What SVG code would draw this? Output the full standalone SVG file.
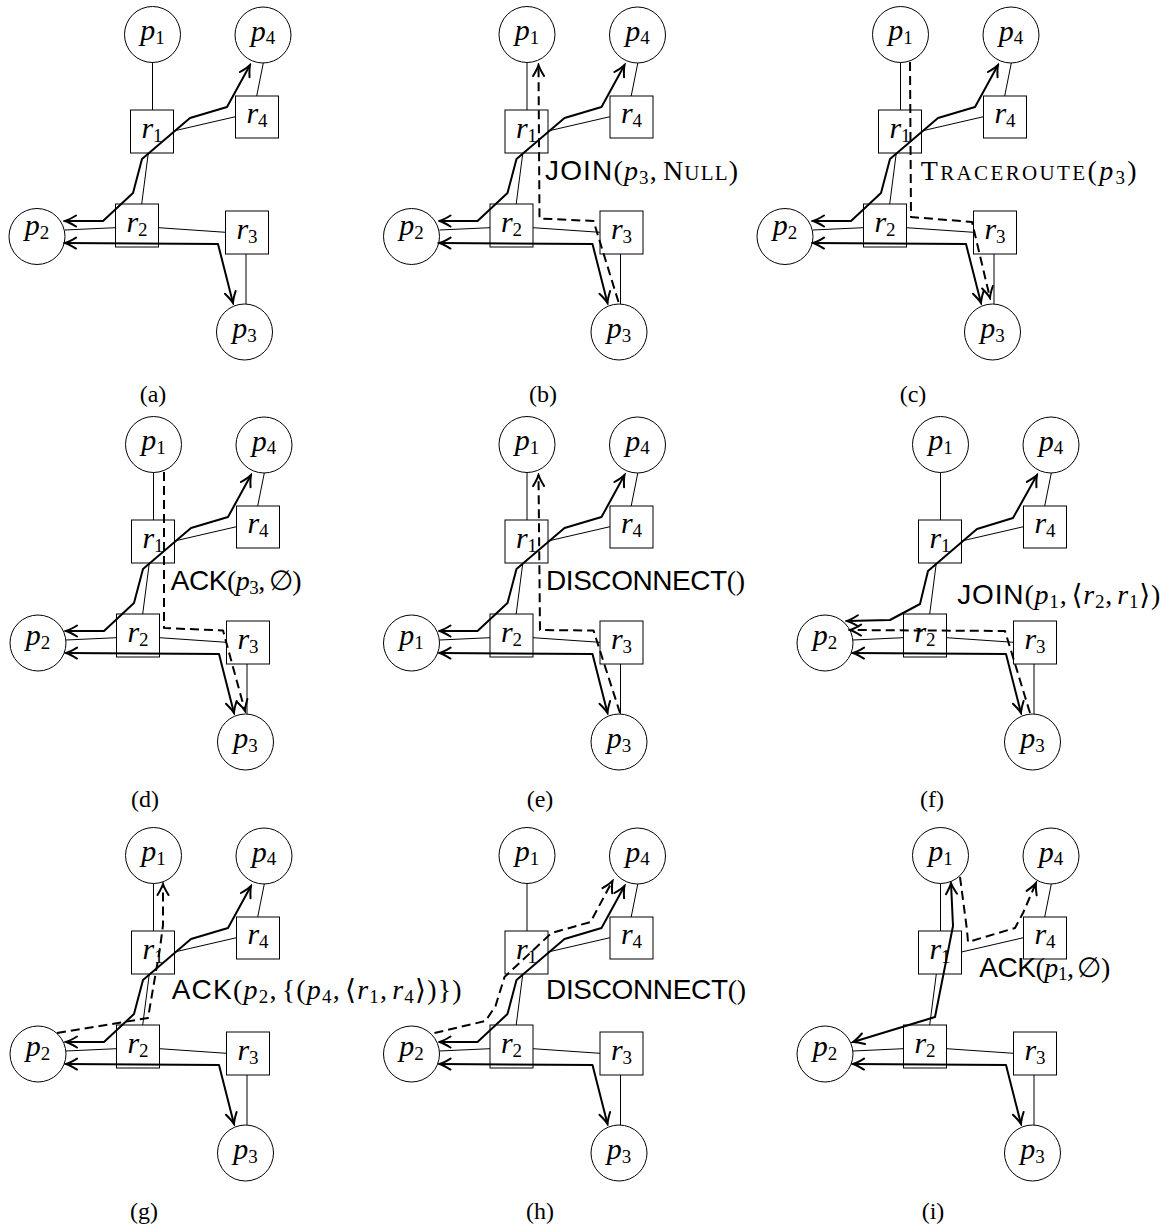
<svg xmlns="http://www.w3.org/2000/svg" width="1169" height="1228" viewBox="0 0 1169 1228">
<defs>
<style>
.n{fill:#fff;stroke:#000;stroke-width:1}
.e{stroke:#000;stroke-width:1;fill:none}
.m{stroke:#000;stroke-width:2;fill:none;stroke-linejoin:round}
.d{stroke-dasharray:9 5}
.nl{font-family:"Liberation Serif",serif;font-size:30px;text-anchor:middle}
.it{font-style:italic}
.sub{font-size:19px}
.ml{font-family:"Liberation Serif","DejaVu Serif",serif;font-size:28px}
.sf{font-family:"Liberation Sans",sans-serif}
.sc{font-size:21px}
.cap{font-family:"Liberation Serif",serif;font-size:24px;text-anchor:middle}
</style>
<marker id="ar" viewBox="-13 -8 15 16" refX="0" refY="0" markerWidth="15" markerHeight="16" markerUnits="userSpaceOnUse" orient="auto-start-reverse">
<path d="M-11,-5.5 Q-4,-1.2 0,0 Q-4,1.2 -11,5.5" fill="none" stroke="#000" stroke-width="2" stroke-linecap="round"/>
</marker>
</defs>
<rect width="1169" height="1228" fill="#fff"/>

<!-- Panel a -->
<g id="panel-a" transform="translate(0,0)">
<g id="a-p1"><circle class="n" cx="152.5" cy="34.5" r="28"/><text class="nl" x="152.5" y="40"><tspan class="it">p</tspan><tspan class="sub" dy="3.5">1</tspan></text></g>
<g id="a-p4"><circle class="n" cx="263" cy="35" r="28"/><text class="nl" x="263" y="40.5"><tspan class="it">p</tspan><tspan class="sub" dy="3.5">4</tspan></text></g>
<g id="a-p2"><circle class="n" cx="37" cy="236.5" r="28"/><text class="nl" x="37" y="235"><tspan class="it">p</tspan><tspan class="sub" dy="3.5">2</tspan></text></g>
<g id="a-p3"><circle class="n" cx="244.5" cy="332" r="28"/><text class="nl" x="244.5" y="338"><tspan class="it">p</tspan><tspan class="sub" dy="3.5">3</tspan></text></g>
<g id="a-r1"><rect class="n" x="130.5" y="110" width="43" height="43"/><text class="nl" x="152" y="137.5"><tspan class="it">r</tspan><tspan class="sub" dy="4">1</tspan></text></g>
<g id="a-r4"><rect class="n" x="235.5" y="96" width="43" height="42"/><text class="nl" x="257" y="123"><tspan class="it">r</tspan><tspan class="sub" dy="4">4</tspan></text></g>
<g id="a-r2"><rect class="n" x="115.5" y="204" width="43" height="43"/><text class="nl" x="137" y="231.5"><tspan class="it">r</tspan><tspan class="sub" dy="4">2</tspan></text></g>
<g id="a-r3"><rect class="n" x="225.5" y="211" width="43" height="43"/><text class="nl" x="247" y="238.5"><tspan class="it">r</tspan><tspan class="sub" dy="4">3</tspan></text></g>
<g id="a-connectors">
<path class="e" d="M152.5,62.5 V110 M173.5,131 L235.5,116.7 M256.7,96 L263.3,63 M148.3,153 L141.7,204 M65,230 L115.5,227.7 M158.5,227.7 L225.5,232.3 M246,254 V304"/>
<path class="m" d="M65,221 L103,221 L133,193 L142,159 L190,118 L227,107 L250,65" marker-start="url(#ar)" marker-end="url(#ar)"/>
<path class="m" d="M65,243 L218,244 L233,303" marker-start="url(#ar)" marker-end="url(#ar)"/>
</g>
</g>

<!-- Panel b -->
<g id="panel-b" transform="translate(374.5,0)">
<g id="b-p1"><circle class="n" cx="152.5" cy="34.5" r="28"/><text class="nl" x="152.5" y="40"><tspan class="it">p</tspan><tspan class="sub" dy="3.5">1</tspan></text></g>
<g id="b-p4"><circle class="n" cx="263" cy="35" r="28"/><text class="nl" x="263" y="40.5"><tspan class="it">p</tspan><tspan class="sub" dy="3.5">4</tspan></text></g>
<g id="b-p2"><circle class="n" cx="37" cy="236.5" r="28"/><text class="nl" x="37" y="235"><tspan class="it">p</tspan><tspan class="sub" dy="3.5">2</tspan></text></g>
<g id="b-p3"><circle class="n" cx="244.5" cy="332" r="28"/><text class="nl" x="244.5" y="338"><tspan class="it">p</tspan><tspan class="sub" dy="3.5">3</tspan></text></g>
<g id="b-r1"><rect class="n" x="130.5" y="110" width="43" height="43"/><text class="nl" x="152" y="137.5"><tspan class="it">r</tspan><tspan class="sub" dy="4">1</tspan></text></g>
<g id="b-r4"><rect class="n" x="235.5" y="96" width="43" height="42"/><text class="nl" x="257" y="123"><tspan class="it">r</tspan><tspan class="sub" dy="4">4</tspan></text></g>
<g id="b-r2"><rect class="n" x="115.5" y="204" width="43" height="43"/><text class="nl" x="137" y="231.5"><tspan class="it">r</tspan><tspan class="sub" dy="4">2</tspan></text></g>
<g id="b-r3"><rect class="n" x="225.5" y="211" width="43" height="43"/><text class="nl" x="247" y="238.5"><tspan class="it">r</tspan><tspan class="sub" dy="4">3</tspan></text></g>
<g id="b-connectors">
<path class="e" d="M152.5,62.5 V110 M173.5,131 L235.5,116.7 M256.7,96 L263.3,63 M148.3,153 L141.7,204 M65,230 L115.5,227.7 M158.5,227.7 L225.5,232.3 M246,254 V304"/>
<path class="m" d="M65,221 L103,221 L133,193 L142,159 L190,118 L227,107 L250,65" marker-start="url(#ar)" marker-end="url(#ar)"/>
<path class="m" d="M65,243 L218,244 L233,303" marker-start="url(#ar)" marker-end="url(#ar)"/>
<path class="m d" d="M244,302 L219,221 L165,218.5 L164,65" marker-end="url(#ar)"/>
</g>
<text class="ml" x="170.5" y="180" textLength="193" lengthAdjust="spacing"><tspan class="sf">JOIN</tspan>(<tspan class="it">p</tspan><tspan class="sub" dy="3.5">3</tspan><tspan dy="-3.5">,</tspan><tspan dx="5">N</tspan><tspan class="sc">ULL</tspan>)</text>
</g>

<!-- Panel c -->
<g id="panel-c" transform="translate(748,0)">
<g id="c-p1"><circle class="n" cx="152.5" cy="34.5" r="28"/><text class="nl" x="152.5" y="40"><tspan class="it">p</tspan><tspan class="sub" dy="3.5">1</tspan></text></g>
<g id="c-p4"><circle class="n" cx="263" cy="35" r="28"/><text class="nl" x="263" y="40.5"><tspan class="it">p</tspan><tspan class="sub" dy="3.5">4</tspan></text></g>
<g id="c-p2"><circle class="n" cx="37" cy="236.5" r="28"/><text class="nl" x="37" y="235"><tspan class="it">p</tspan><tspan class="sub" dy="3.5">2</tspan></text></g>
<g id="c-p3"><circle class="n" cx="244.5" cy="332" r="28"/><text class="nl" x="244.5" y="338"><tspan class="it">p</tspan><tspan class="sub" dy="3.5">3</tspan></text></g>
<g id="c-r1"><rect class="n" x="130.5" y="110" width="43" height="43"/><text class="nl" x="152" y="137.5"><tspan class="it">r</tspan><tspan class="sub" dy="4">1</tspan></text></g>
<g id="c-r4"><rect class="n" x="235.5" y="96" width="43" height="42"/><text class="nl" x="257" y="123"><tspan class="it">r</tspan><tspan class="sub" dy="4">4</tspan></text></g>
<g id="c-r2"><rect class="n" x="115.5" y="204" width="43" height="43"/><text class="nl" x="137" y="231.5"><tspan class="it">r</tspan><tspan class="sub" dy="4">2</tspan></text></g>
<g id="c-r3"><rect class="n" x="225.5" y="211" width="43" height="43"/><text class="nl" x="247" y="238.5"><tspan class="it">r</tspan><tspan class="sub" dy="4">3</tspan></text></g>
<g id="c-connectors">
<path class="e" d="M152.5,62.5 V110 M173.5,131 L235.5,116.7 M256.7,96 L263.3,63 M148.3,153 L141.7,204 M65,230 L115.5,227.7 M158.5,227.7 L225.5,232.3 M246,254 V304"/>
<path class="m" d="M65,221 L103,221 L133,193 L142,159 L190,118 L227,107 L250,65" marker-start="url(#ar)" marker-end="url(#ar)"/>
<path class="m" d="M65,243 L218,244 L233,303" marker-start="url(#ar)" marker-end="url(#ar)"/>
<path class="m d" d="M162,62 L163,217 L224,222 L242,298" marker-end="url(#ar)"/>
</g>
<text class="ml" x="172.7" y="180" textLength="216" lengthAdjust="spacing">T<tspan class="sc">RACEROUTE</tspan>(<tspan class="it">p</tspan><tspan class="sub" dy="3.5">3</tspan><tspan dy="-3.5">)</tspan></text>
</g>

<!-- Panel d -->
<g id="panel-d" transform="translate(1,410)">
<g id="d-p1"><circle class="n" cx="152.5" cy="34.5" r="28"/><text class="nl" x="152.5" y="40"><tspan class="it">p</tspan><tspan class="sub" dy="3.5">1</tspan></text></g>
<g id="d-p4"><circle class="n" cx="263" cy="35" r="28"/><text class="nl" x="263" y="40.5"><tspan class="it">p</tspan><tspan class="sub" dy="3.5">4</tspan></text></g>
<g id="d-p2"><circle class="n" cx="37" cy="233" r="28"/><text class="nl" x="37" y="235"><tspan class="it">p</tspan><tspan class="sub" dy="3.5">2</tspan></text></g>
<g id="d-p3"><circle class="n" cx="244.5" cy="332" r="28"/><text class="nl" x="244.5" y="338"><tspan class="it">p</tspan><tspan class="sub" dy="3.5">3</tspan></text></g>
<g id="d-r1"><rect class="n" x="130.5" y="110" width="43" height="43"/><text class="nl" x="152" y="137.5"><tspan class="it">r</tspan><tspan class="sub" dy="4">1</tspan></text></g>
<g id="d-r4"><rect class="n" x="235.5" y="96" width="43" height="42"/><text class="nl" x="257" y="123"><tspan class="it">r</tspan><tspan class="sub" dy="4">4</tspan></text></g>
<g id="d-r2"><rect class="n" x="115.5" y="204" width="43" height="43"/><text class="nl" x="137" y="231.5"><tspan class="it">r</tspan><tspan class="sub" dy="4">2</tspan></text></g>
<g id="d-r3"><rect class="n" x="225.5" y="211" width="43" height="43"/><text class="nl" x="247" y="238.5"><tspan class="it">r</tspan><tspan class="sub" dy="4">3</tspan></text></g>
<g id="d-connectors">
<path class="e" d="M152.5,62.5 V110 M173.5,131 L235.5,116.7 M256.7,96 L263.3,63 M148.3,153 L141.7,204 M65,230 L115.5,227.7 M158.5,227.7 L225.5,232.3 M246,254 V304"/>
<path class="m" d="M65,221 L103,221 L133,193 L142,159 L190,118 L227,107 L250,65" marker-start="url(#ar)" marker-end="url(#ar)"/>
<path class="m" d="M65,243 L218,244 L233,303" marker-start="url(#ar)" marker-end="url(#ar)"/>
<path class="m d" d="M163,62 L163,218 L222,220.5 L244,301" marker-end="url(#ar)"/>
</g>
<text class="ml" x="169.7" y="180" textLength="131" lengthAdjust="spacing"><tspan class="sf">ACK</tspan>(<tspan class="it">p</tspan><tspan class="sub" dy="3.5">3</tspan><tspan dy="-3.5">,</tspan><tspan dx="4">∅</tspan>)</text>
</g>

<!-- Panel e -->
<g id="panel-e" transform="translate(374.5,410)">
<g id="e-p1"><circle class="n" cx="152.5" cy="34.5" r="28"/><text class="nl" x="152.5" y="40"><tspan class="it">p</tspan><tspan class="sub" dy="3.5">1</tspan></text></g>
<g id="e-p4"><circle class="n" cx="263" cy="35" r="28"/><text class="nl" x="263" y="40.5"><tspan class="it">p</tspan><tspan class="sub" dy="3.5">4</tspan></text></g>
<g id="e-p2"><circle class="n" cx="37" cy="233" r="28"/><text class="nl" x="37" y="235"><tspan class="it">p</tspan><tspan class="sub" dy="3.5">1</tspan></text></g>
<g id="e-p3"><circle class="n" cx="244.5" cy="332" r="28"/><text class="nl" x="244.5" y="338"><tspan class="it">p</tspan><tspan class="sub" dy="3.5">3</tspan></text></g>
<g id="e-r1"><rect class="n" x="130.5" y="110" width="43" height="43"/><text class="nl" x="152" y="137.5"><tspan class="it">r</tspan><tspan class="sub" dy="4">1</tspan></text></g>
<g id="e-r4"><rect class="n" x="235.5" y="96" width="43" height="42"/><text class="nl" x="257" y="123"><tspan class="it">r</tspan><tspan class="sub" dy="4">4</tspan></text></g>
<g id="e-r2"><rect class="n" x="115.5" y="204" width="43" height="43"/><text class="nl" x="137" y="231.5"><tspan class="it">r</tspan><tspan class="sub" dy="4">2</tspan></text></g>
<g id="e-r3"><rect class="n" x="225.5" y="211" width="43" height="43"/><text class="nl" x="247" y="238.5"><tspan class="it">r</tspan><tspan class="sub" dy="4">3</tspan></text></g>
<g id="e-connectors">
<path class="e" d="M152.5,62.5 V110 M173.5,131 L235.5,116.7 M256.7,96 L263.3,63 M148.3,153 L141.7,204 M65,230 L115.5,227.7 M158.5,227.7 L225.5,232.3 M246,254 V304"/>
<path class="m" d="M65,221 L103,221 L133,193 L142,159 L190,118 L227,107 L250,65" marker-start="url(#ar)" marker-end="url(#ar)"/>
<path class="m" d="M65,243 L218,244 L233,303" marker-start="url(#ar)" marker-end="url(#ar)"/>
<path class="m d" d="M245.5,303 L219,220.5 L165.5,220 L164,65" marker-end="url(#ar)"/>
</g>
<text class="ml" x="171.5" y="180" textLength="199" lengthAdjust="spacing"><tspan class="sf">DISCONNECT</tspan>()</text>
</g>

<!-- Panel f -->
<g id="panel-f" transform="translate(788,410)">
<g id="f-p1"><circle class="n" cx="152.5" cy="34.5" r="28"/><text class="nl" x="152.5" y="40"><tspan class="it">p</tspan><tspan class="sub" dy="3.5">1</tspan></text></g>
<g id="f-p4"><circle class="n" cx="263" cy="35" r="28"/><text class="nl" x="263" y="40.5"><tspan class="it">p</tspan><tspan class="sub" dy="3.5">4</tspan></text></g>
<g id="f-p2"><circle class="n" cx="37" cy="233" r="28"/><text class="nl" x="37" y="235"><tspan class="it">p</tspan><tspan class="sub" dy="3.5">2</tspan></text></g>
<g id="f-p3"><circle class="n" cx="244.5" cy="332" r="28"/><text class="nl" x="244.5" y="338"><tspan class="it">p</tspan><tspan class="sub" dy="3.5">3</tspan></text></g>
<g id="f-r1"><rect class="n" x="130.5" y="110" width="43" height="43"/><text class="nl" x="152" y="137.5"><tspan class="it">r</tspan><tspan class="sub" dy="4">1</tspan></text></g>
<g id="f-r4"><rect class="n" x="235.5" y="96" width="43" height="42"/><text class="nl" x="257" y="123"><tspan class="it">r</tspan><tspan class="sub" dy="4">4</tspan></text></g>
<g id="f-r2"><rect class="n" x="115.5" y="204" width="43" height="43"/><text class="nl" x="137" y="231.5"><tspan class="it">r</tspan><tspan class="sub" dy="4">2</tspan></text></g>
<g id="f-r3"><rect class="n" x="225.5" y="211" width="43" height="43"/><text class="nl" x="247" y="238.5"><tspan class="it">r</tspan><tspan class="sub" dy="4">3</tspan></text></g>
<g id="f-connectors">
<path class="e" d="M152.5,62.5 V110 M173.5,131 L235.5,116.7 M256.7,96 L263.3,63 M148.3,153 L141.7,204 M65,230 L115.5,227.7 M158.5,227.7 L225.5,232.3 M246,254 V304"/>
<path class="m" d="M59,211 L102,210 L132,194 L140,161 L189,119 L225,108 L249,65" marker-start="url(#ar)" marker-end="url(#ar)"/>
<path class="m" d="M65,243 L218,244 L233,303" marker-start="url(#ar)" marker-end="url(#ar)"/>
<path class="m d" d="M242,303 L217,221 L62,220" marker-end="url(#ar)"/>
</g>
<text class="ml" x="169.3" y="194" textLength="203" lengthAdjust="spacing"><tspan class="sf">JOIN</tspan>(<tspan class="it">p</tspan><tspan class="sub" dy="3.5">1</tspan><tspan dy="-3.5">,</tspan><tspan dx="4">⟨</tspan><tspan class="it">r</tspan><tspan class="sub" dy="3.5">2</tspan><tspan dy="-3.5">,</tspan><tspan class="it" dx="4">r</tspan><tspan class="sub" dy="3.5">1</tspan><tspan dy="-3.5">⟩)</tspan></text>
</g>

<!-- Panel g -->
<g id="panel-g" transform="translate(1,821)">
<g id="g-p1"><circle class="n" cx="152.5" cy="34.5" r="28"/><text class="nl" x="152.5" y="40"><tspan class="it">p</tspan><tspan class="sub" dy="3.5">1</tspan></text></g>
<g id="g-p4"><circle class="n" cx="263" cy="35" r="28"/><text class="nl" x="263" y="40.5"><tspan class="it">p</tspan><tspan class="sub" dy="3.5">4</tspan></text></g>
<g id="g-p2"><circle class="n" cx="37" cy="233" r="28"/><text class="nl" x="37" y="235"><tspan class="it">p</tspan><tspan class="sub" dy="3.5">2</tspan></text></g>
<g id="g-p3"><circle class="n" cx="244.5" cy="332" r="28"/><text class="nl" x="244.5" y="338"><tspan class="it">p</tspan><tspan class="sub" dy="3.5">3</tspan></text></g>
<g id="g-r1"><rect class="n" x="130.5" y="110" width="43" height="43"/><text class="nl" x="152" y="137.5"><tspan class="it">r</tspan><tspan class="sub" dy="4">1</tspan></text></g>
<g id="g-r4"><rect class="n" x="235.5" y="96" width="43" height="42"/><text class="nl" x="257" y="123"><tspan class="it">r</tspan><tspan class="sub" dy="4">4</tspan></text></g>
<g id="g-r2"><rect class="n" x="115.5" y="204" width="43" height="43"/><text class="nl" x="137" y="231.5"><tspan class="it">r</tspan><tspan class="sub" dy="4">2</tspan></text></g>
<g id="g-r3"><rect class="n" x="225.5" y="211" width="43" height="43"/><text class="nl" x="247" y="238.5"><tspan class="it">r</tspan><tspan class="sub" dy="4">3</tspan></text></g>
<g id="g-connectors">
<path class="e" d="M152.5,62.5 V110 M173.5,131 L235.5,116.7 M256.7,96 L263.3,63 M148.3,153 L141.7,204 M65,230 L115.5,227.7 M158.5,227.7 L225.5,232.3 M246,254 V304"/>
<path class="m" d="M65,221 L103,221 L133,193 L142,159 L190,118 L227,107 L250,65" marker-start="url(#ar)" marker-end="url(#ar)"/>
<path class="m" d="M65,243 L218,244 L233,303" marker-start="url(#ar)" marker-end="url(#ar)"/>
<path class="m d" d="M56,212 L147,197 L159,127 L162,104 L162,63" marker-end="url(#ar)"/>
</g>
<text class="ml" x="170.7" y="178.3" textLength="290" lengthAdjust="spacing"><tspan class="sf">ACK</tspan>(<tspan class="it">p</tspan><tspan class="sub" dy="3.5">2</tspan><tspan dy="-3.5">,</tspan><tspan dx="4">{(</tspan><tspan class="it">p</tspan><tspan class="sub" dy="3.5">4</tspan><tspan dy="-3.5">,</tspan><tspan dx="4">⟨</tspan><tspan class="it">r</tspan><tspan class="sub" dy="3.5">1</tspan><tspan dy="-3.5">,</tspan><tspan class="it" dx="4">r</tspan><tspan class="sub" dy="3.5">4</tspan><tspan dy="-3.5">⟩)})</tspan></text>
</g>

<!-- Panel h -->
<g id="panel-h" transform="translate(374.5,821)">
<g id="h-p1"><circle class="n" cx="152.5" cy="34.5" r="28"/><text class="nl" x="152.5" y="40"><tspan class="it">p</tspan><tspan class="sub" dy="3.5">1</tspan></text></g>
<g id="h-p4"><circle class="n" cx="263" cy="35" r="28"/><text class="nl" x="263" y="40.5"><tspan class="it">p</tspan><tspan class="sub" dy="3.5">4</tspan></text></g>
<g id="h-p2"><circle class="n" cx="37" cy="233" r="28"/><text class="nl" x="37" y="235"><tspan class="it">p</tspan><tspan class="sub" dy="3.5">2</tspan></text></g>
<g id="h-p3"><circle class="n" cx="244.5" cy="332" r="28"/><text class="nl" x="244.5" y="338"><tspan class="it">p</tspan><tspan class="sub" dy="3.5">3</tspan></text></g>
<g id="h-r1"><rect class="n" x="130.5" y="110" width="43" height="43"/><text class="nl" x="152" y="137.5"><tspan class="it">r</tspan><tspan class="sub" dy="4">1</tspan></text></g>
<g id="h-r4"><rect class="n" x="235.5" y="96" width="43" height="42"/><text class="nl" x="257" y="123"><tspan class="it">r</tspan><tspan class="sub" dy="4">4</tspan></text></g>
<g id="h-r2"><rect class="n" x="115.5" y="204" width="43" height="43"/><text class="nl" x="137" y="231.5"><tspan class="it">r</tspan><tspan class="sub" dy="4">2</tspan></text></g>
<g id="h-r3"><rect class="n" x="225.5" y="211" width="43" height="43"/><text class="nl" x="247" y="238.5"><tspan class="it">r</tspan><tspan class="sub" dy="4">3</tspan></text></g>
<g id="h-connectors">
<path class="e" d="M152.5,62.5 V110 M173.5,131 L235.5,116.7 M256.7,96 L263.3,63 M148.3,153 L141.7,204 M65,230 L115.5,227.7 M158.5,227.7 L225.5,232.3 M246,254 V304"/>
<path class="m" d="M65,221 L103,221 L133,193 L142,159 L190,118 L227,107 L250,65" marker-start="url(#ar)" marker-end="url(#ar)"/>
<path class="m" d="M65,243 L218,244 L233,303" marker-start="url(#ar)" marker-end="url(#ar)"/>
<path class="m d" d="M60,212 L111,200 L121,185 L130,156 L177,112 L216,101 L238,60" marker-end="url(#ar)"/>
</g>
<text class="ml" x="171.5" y="178.3" textLength="200" lengthAdjust="spacing"><tspan class="sf">DISCONNECT</tspan>()</text>
</g>

<!-- Panel i -->
<g id="panel-i" transform="translate(788,821)">
<g id="i-p1"><circle class="n" cx="152.5" cy="34.5" r="28"/><text class="nl" x="152.5" y="40"><tspan class="it">p</tspan><tspan class="sub" dy="3.5">1</tspan></text></g>
<g id="i-p4"><circle class="n" cx="263" cy="35" r="28"/><text class="nl" x="263" y="40.5"><tspan class="it">p</tspan><tspan class="sub" dy="3.5">4</tspan></text></g>
<g id="i-p2"><circle class="n" cx="37" cy="233" r="28"/><text class="nl" x="37" y="235"><tspan class="it">p</tspan><tspan class="sub" dy="3.5">2</tspan></text></g>
<g id="i-p3"><circle class="n" cx="244.5" cy="332" r="28"/><text class="nl" x="244.5" y="338"><tspan class="it">p</tspan><tspan class="sub" dy="3.5">3</tspan></text></g>
<g id="i-r1"><rect class="n" x="130.5" y="110" width="43" height="43"/><text class="nl" x="152" y="137.5"><tspan class="it">r</tspan><tspan class="sub" dy="4">1</tspan></text></g>
<g id="i-r4"><rect class="n" x="235.5" y="96" width="43" height="42"/><text class="nl" x="257" y="123"><tspan class="it">r</tspan><tspan class="sub" dy="4">4</tspan></text></g>
<g id="i-r2"><rect class="n" x="115.5" y="204" width="43" height="43"/><text class="nl" x="137" y="231.5"><tspan class="it">r</tspan><tspan class="sub" dy="4">2</tspan></text></g>
<g id="i-r3"><rect class="n" x="225.5" y="211" width="43" height="43"/><text class="nl" x="247" y="238.5"><tspan class="it">r</tspan><tspan class="sub" dy="4">3</tspan></text></g>
<g id="i-connectors">
<path class="e" d="M152.5,62.5 V110 M173.5,131 L235.5,116.7 M256.7,96 L263.3,63 M148.3,153 L141.7,204 M65,230 L115.5,227.7 M158.5,227.7 L225.5,232.3 M246,254 V304"/>
<path class="m" d="M65,221 L147,196 L165,105 L163,62" marker-start="url(#ar)" marker-end="url(#ar)"/>
<path class="m" d="M65,243 L218,244 L233,303" marker-start="url(#ar)" marker-end="url(#ar)"/>
<path class="m d" d="M172,56 L179,109 L180,121 L227,107 L235,92 L248,62" marker-end="url(#ar)"/>
</g>
<text class="ml" x="191.3" y="155.7" textLength="131" lengthAdjust="spacing"><tspan class="sf">ACK</tspan>(<tspan class="it">p</tspan><tspan class="sub" dy="3.5">1</tspan><tspan dy="-3.5">,</tspan><tspan dx="4">∅</tspan>)</text>
</g>

<g id="captions">
<text class="cap" x="153" y="402">(a)</text>
<text class="cap" x="543" y="402">(b)</text>
<text class="cap" x="913" y="402">(c)</text>
<text class="cap" x="145" y="807">(d)</text>
<text class="cap" x="540" y="807">(e)</text>
<text class="cap" x="932" y="807">(f)</text>
<text class="cap" x="144" y="1219">(g)</text>
<text class="cap" x="540" y="1219">(h)</text>
<text class="cap" x="933" y="1219">(i)</text>
</g>
</svg>
